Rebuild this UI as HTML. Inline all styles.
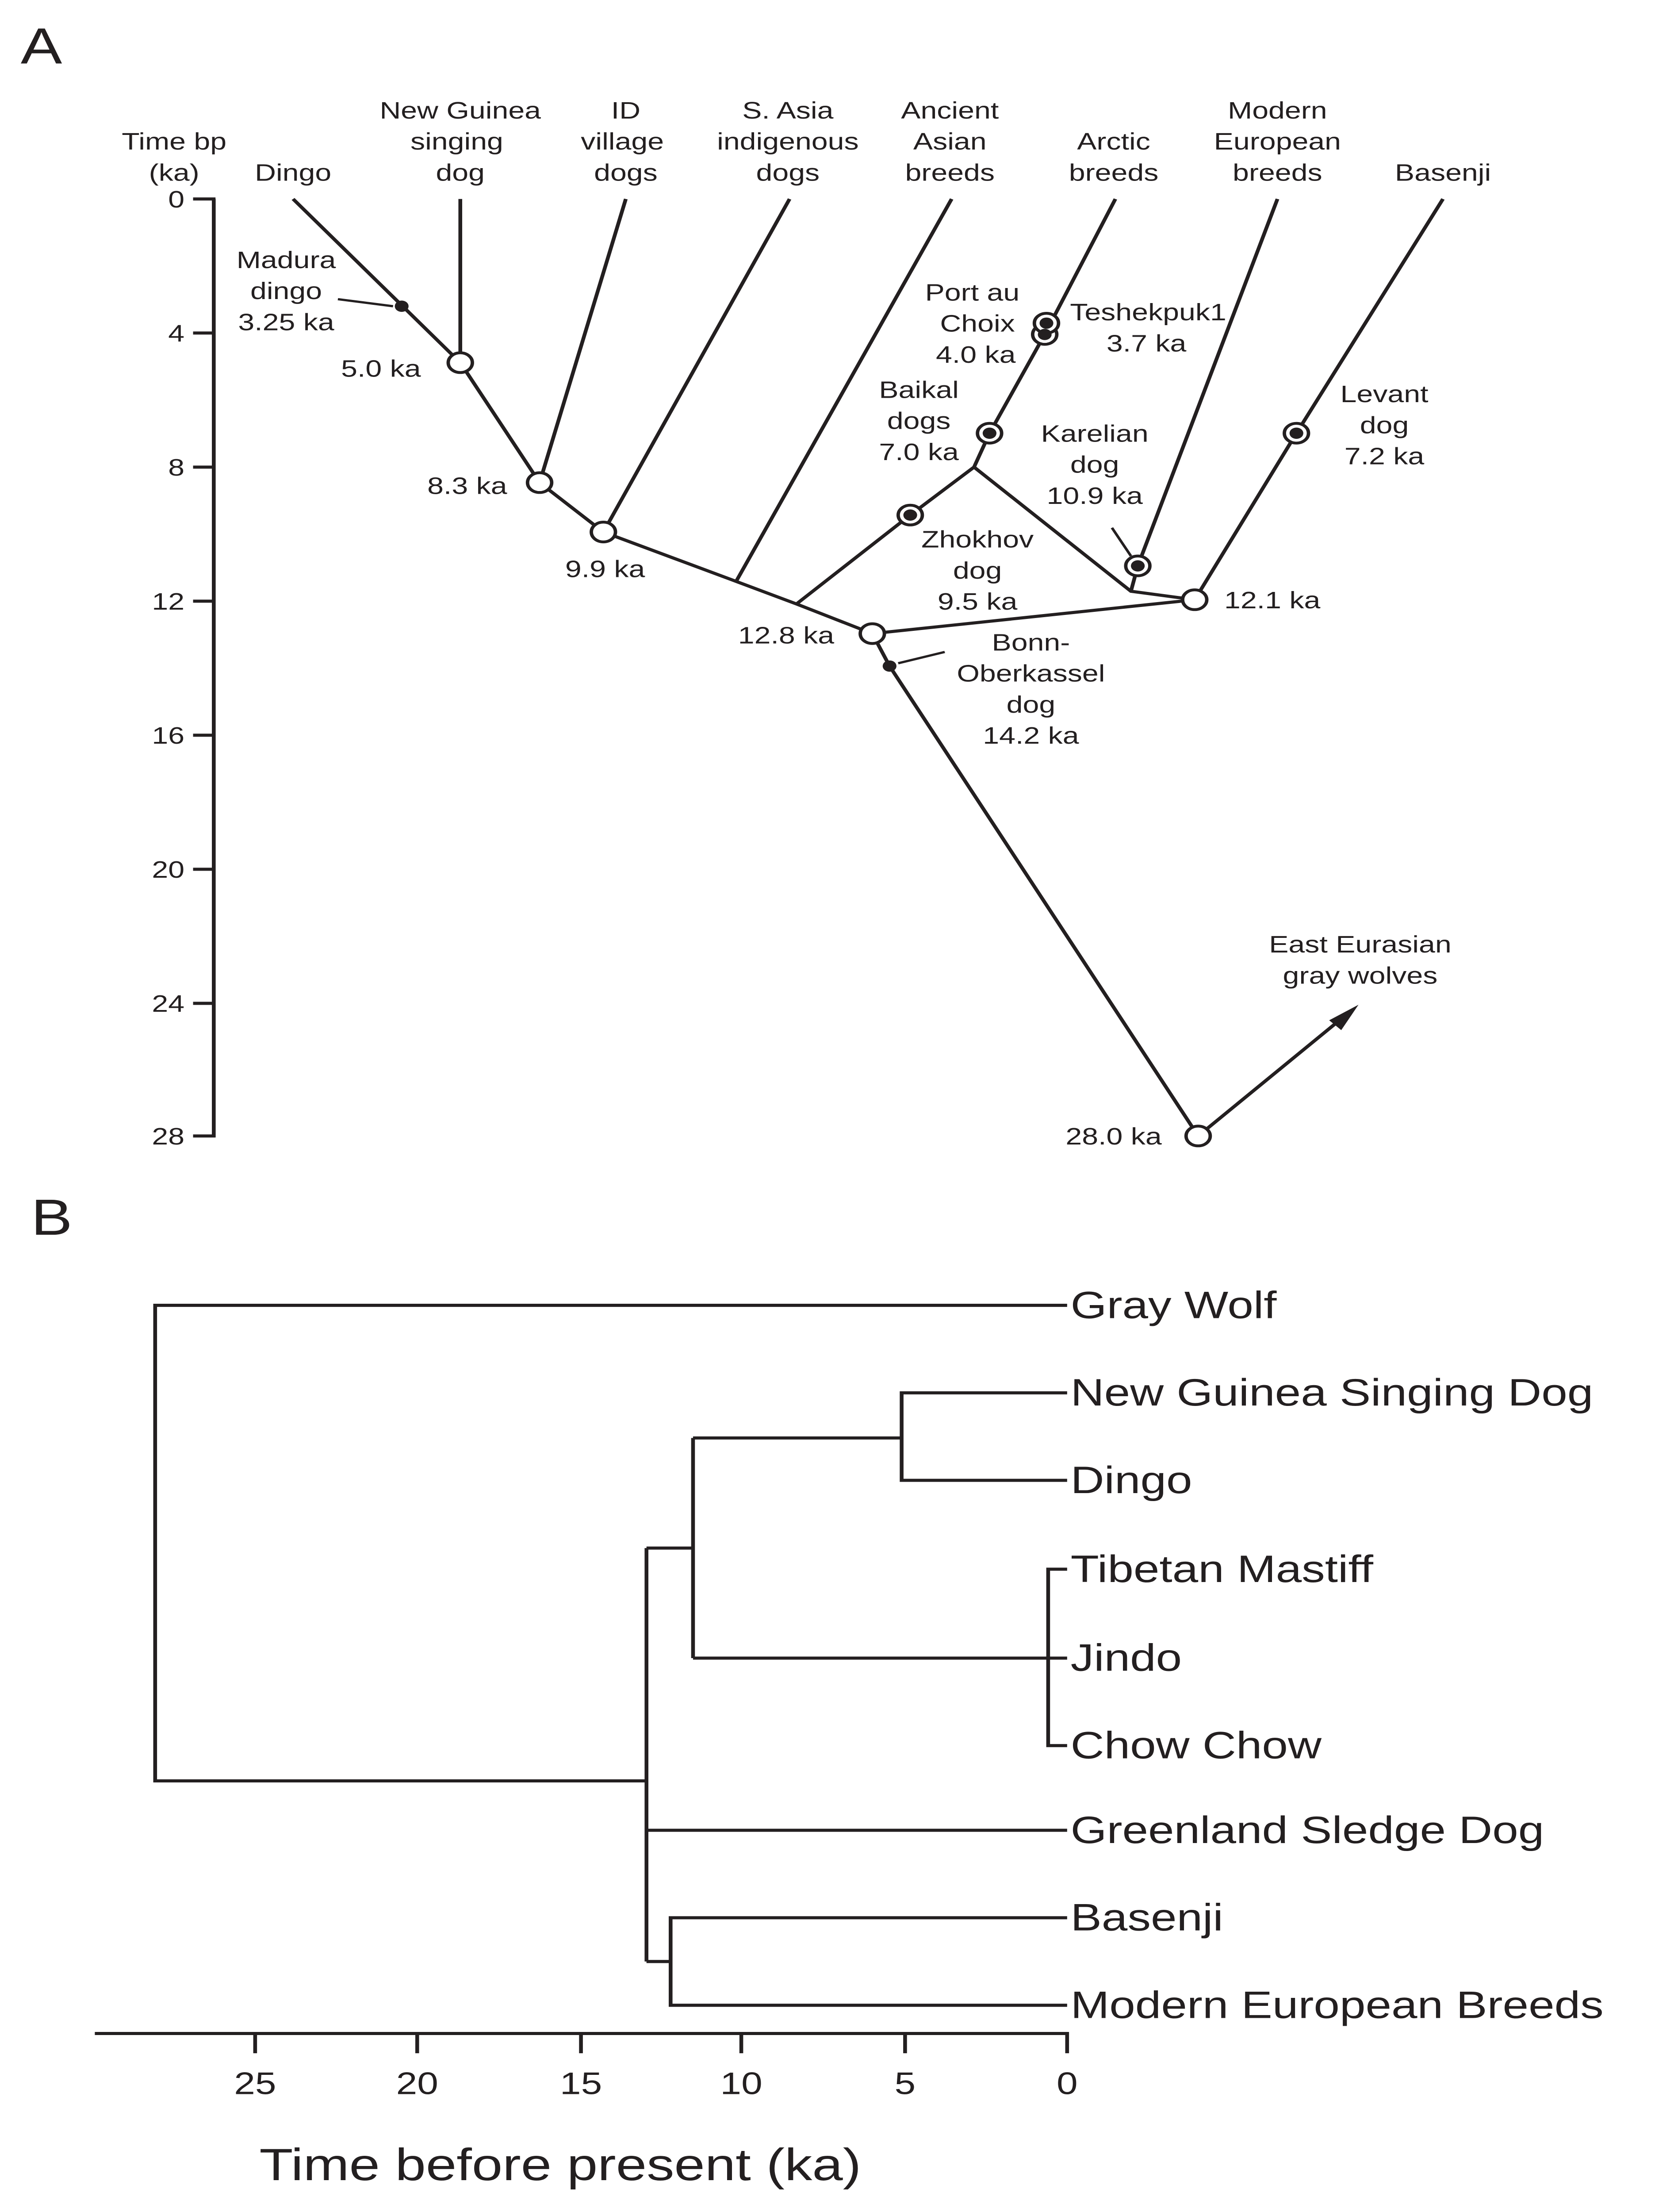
<!DOCTYPE html>
<html><head><meta charset="utf-8"><style>
html,body{margin:0;padding:0;background:#fff;overflow:hidden;width:100%;height:100%;}
svg{display:block;position:absolute;left:0;top:0;width:100vw;height:100vh;}
text{font-family:"Liberation Sans",Arial,sans-serif;fill:#231f20;}
</style></head><body>
<svg viewBox="0 0 960 1567.5" preserveAspectRatio="none" xmlns="http://www.w3.org/2000/svg">
<rect width="960" height="1567.5" fill="#fff"/>
<g stroke="#231f20" stroke-width="2.2" fill="none" stroke-linejoin="miter">
<line x1="124" y1="141" x2="124" y2="806"/>
<line x1="112" y1="141" x2="125" y2="141"/>
<line x1="112" y1="236" x2="125" y2="236"/>
<line x1="112" y1="331" x2="125" y2="331"/>
<line x1="112" y1="426" x2="125" y2="426"/>
<line x1="112" y1="521" x2="125" y2="521"/>
<line x1="112" y1="616" x2="125" y2="616"/>
<line x1="112" y1="711" x2="125" y2="711"/>
<line x1="112" y1="805" x2="125" y2="805"/>
<polyline points="170,141 267,257 313,342 350,377 427,412 462,428 506,449 516,472 695,805"/>
<line x1="267" y1="141" x2="267" y2="257"/>
<line x1="363" y1="141" x2="313" y2="342"/>
<line x1="458" y1="141" x2="350" y2="377"/>
<line x1="552" y1="141" x2="427" y2="412"/>
<polyline points="462,428 528,365 565,331 574,307 606,237 647,141"/>
<polyline points="565,331 656,419 693,425"/>
<polyline points="741,141 660,401 656,419"/>
<polyline points="837,141 752,307 693,425"/>
<line x1="506" y1="449" x2="693" y2="425"/>
<line x1="695" y1="805" x2="778" y2="722"/>
<line x1="196" y1="212" x2="228" y2="217" stroke-width="1.6"/>
<line x1="521" y1="470" x2="548" y2="462" stroke-width="1.6"/>
<line x1="645" y1="374" x2="656" y2="394" stroke-width="1.6"/>
</g>
<polygon points="788,712 771,723 778,730" fill="#231f20"/>
<g stroke="#231f20" stroke-width="2" fill="#fff">
<circle cx="267" cy="257" r="7"/>
<circle cx="313" cy="342" r="7"/>
<circle cx="350" cy="377" r="7"/>
<circle cx="506" cy="449" r="7"/>
<circle cx="693" cy="425" r="7"/>
<circle cx="695" cy="805" r="7"/>
<circle cx="528" cy="365" r="7"/>
<circle cx="574" cy="307" r="7"/>
<circle cx="606" cy="237" r="7"/>
<circle cx="607" cy="229" r="7"/>
<circle cx="660" cy="401" r="7"/>
<circle cx="752" cy="307" r="7"/>
</g>
<g fill="#231f20">
<circle cx="233" cy="217" r="4"/>
<circle cx="516" cy="472" r="4"/>
<circle cx="528" cy="365" r="4"/>
<circle cx="574" cy="307" r="4"/>
<circle cx="606" cy="237" r="4"/>
<circle cx="607" cy="229" r="4"/>
<circle cx="660" cy="401" r="4"/>
<circle cx="752" cy="307" r="4"/>
</g>
<text x="12" y="45" font-size="36">A</text>
<g font-size="17" text-anchor="end">
<text x="107" y="147">0</text><text x="107" y="242">4</text><text x="107" y="337">8</text>
<text x="107" y="432">12</text><text x="107" y="527">16</text><text x="107" y="622">20</text>
<text x="107" y="717">24</text><text x="107" y="811">28</text>
</g>
<g font-size="17" text-anchor="middle">
<text x="101" y="106">Time bp</text><text x="101" y="128">(ka)</text>
<text x="170" y="128">Dingo</text>
<text x="267" y="84">New Guinea</text><text x="265" y="106">singing</text><text x="267" y="128">dog</text>
<text x="363" y="84">ID</text><text x="361" y="106">village</text><text x="363" y="128">dogs</text>
<text x="457" y="84">S. Asia</text><text x="457" y="106">indigenous</text><text x="457" y="128">dogs</text>
<text x="551" y="84">Ancient</text><text x="551" y="106">Asian</text><text x="551" y="128">breeds</text>
<text x="646" y="106">Arctic</text><text x="646" y="128">breeds</text>
<text x="741" y="84">Modern</text><text x="741" y="106">European</text><text x="741" y="128">breeds</text>
<text x="837" y="128">Basenji</text>
<text x="166" y="190">Madura</text><text x="166" y="212">dingo</text><text x="166" y="234">3.25 ka</text>
<text x="221" y="267">5.0 ka</text>
<text x="271" y="350">8.3 ka</text>
<text x="351" y="409">9.9 ka</text>
<text x="456" y="456">12.8 ka</text>
<text x="564" y="213">Port au</text><text x="567" y="235">Choix</text><text x="566" y="257">4.0 ka</text>
<text x="666" y="227">Teshekpuk1</text><text x="665" y="249">3.7 ka</text>
<text x="533" y="282">Baikal</text><text x="533" y="304">dogs</text><text x="533" y="326">7.0 ka</text>
<text x="635" y="313">Karelian</text><text x="635" y="335">dog</text><text x="635" y="357">10.9 ka</text>
<text x="803" y="285">Levant</text><text x="803" y="307">dog</text><text x="803" y="329">7.2 ka</text>
<text x="567" y="388">Zhokhov</text><text x="567" y="410">dog</text><text x="567" y="432">9.5 ka</text>
<text x="738" y="431">12.1 ka</text>
<text x="598" y="461">Bonn-</text><text x="598" y="483">Oberkassel</text><text x="598" y="505">dog</text><text x="598" y="527">14.2 ka</text>
<text x="789" y="675">East Eurasian</text><text x="789" y="697">gray wolves</text>
<text x="646" y="811">28.0 ka</text>
</g>
<text x="18" y="875" font-size="36">B</text>
<g stroke="#231f20" stroke-width="2.2" fill="none">
<line x1="55" y1="1441" x2="620" y2="1441"/>
<line x1="148" y1="1440" x2="148" y2="1455"/>
<line x1="242" y1="1440" x2="242" y2="1455"/>
<line x1="337" y1="1440" x2="337" y2="1455"/>
<line x1="430" y1="1440" x2="430" y2="1455"/>
<line x1="525" y1="1440" x2="525" y2="1455"/>
<line x1="619" y1="1440" x2="619" y2="1455"/>
<polyline points="619,925 90,925 90,1262 375,1262"/>
<line x1="375" y1="1097" x2="375" y2="1390"/>
<line x1="375" y1="1097" x2="402" y2="1097"/>
<line x1="402" y1="1019" x2="402" y2="1175"/>
<line x1="402" y1="1019" x2="523" y2="1019"/>
<polyline points="619,987 523,987 523,1049 619,1049"/>
<line x1="402" y1="1175" x2="619" y2="1175"/>
<polyline points="619,1112 608,1112 608,1237 619,1237"/>
<line x1="375" y1="1297" x2="619" y2="1297"/>
<line x1="375" y1="1390" x2="389" y2="1390"/>
<polyline points="619,1359 389,1359 389,1421 619,1421"/>
</g>
<g font-size="27">
<text x="621" y="934">Gray Wolf</text>
<text x="621" y="996">New Guinea Singing Dog</text>
<text x="621" y="1058">Dingo</text>
<text x="621" y="1121">Tibetan Mastiff</text>
<text x="621" y="1184">Jindo</text>
<text x="621" y="1246">Chow Chow</text>
<text x="621" y="1306">Greenland Sledge Dog</text>
<text x="621" y="1368">Basenji</text>
<text x="621" y="1430">Modern European Breeds</text>
</g>
<g font-size="22" text-anchor="middle">
<text x="148" y="1484">25</text><text x="242" y="1484">20</text><text x="337" y="1484">15</text>
<text x="430" y="1484">10</text><text x="525" y="1484">5</text><text x="619" y="1484">0</text>
</g>
<text x="325" y="1545" font-size="32" text-anchor="middle">Time before present (ka)</text>
</svg>
</body></html>
